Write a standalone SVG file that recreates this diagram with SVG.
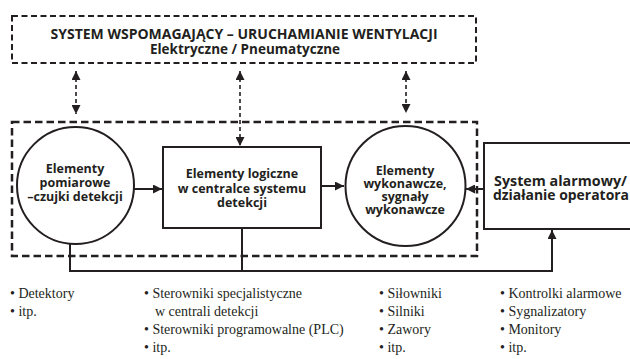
<svg xmlns="http://www.w3.org/2000/svg" width="630" height="359" viewBox="0 0 630 359">
<defs>
<style>
.s{fill:none;stroke:#231f20;stroke-width:2}
.dbox{fill:none;stroke:#231f20;stroke-width:2;stroke-dasharray:6 3.5}
.mbox{fill:none;stroke:#231f20;stroke-width:2.5;stroke-dasharray:7.5 4}
.da{fill:none;stroke:#231f20;stroke-width:1.6;stroke-dasharray:4 3}
.h{font-family:"Open Sans","Liberation Sans",sans-serif;font-weight:700;fill:#231f20;text-anchor:middle}
.b{font-family:"Liberation Serif",serif;font-size:14px;fill:#231f20}
</style>
<marker id="ah" viewBox="0 0 10 10" refX="10" refY="5" markerWidth="9" markerHeight="9" markerUnits="userSpaceOnUse" orient="auto-start-reverse">
<path d="M0,0 L10,5 L0,10 z" fill="#231f20"/>
</marker>
</defs>
<rect width="630" height="359" fill="#fff"/>

<g id="top">
<rect class="dbox" x="12" y="16" width="464" height="47"/>
<text class="h" x="244" y="39" font-size="14">SYSTEM WSPOMAGAJĄCY – URUCHAMIANIE WENTYLACJI</text>
<text class="h" x="245" y="54" font-size="13.5">Elektryczne / Pneumatyczne</text>
</g>

<g id="main">
<rect class="mbox" x="12" y="122" width="465" height="134"/>
</g>

<g id="pomiarowe">
<circle class="s" cx="75.5" cy="185.5" r="58.5"/>
<text class="h" font-size="12.5"><tspan x="75" y="173">Elementy</tspan><tspan x="75" y="187">pomiarowe</tspan><tspan x="75" y="201">–czujki detekcji</tspan></text>
</g>

<g id="logiczne">
<rect class="s" x="163" y="147" width="158" height="81"/>
<text class="h" font-size="12.5"><tspan x="242" y="178">Elementy logiczne</tspan><tspan x="242" y="193">w centralce systemu</tspan><tspan x="242" y="207">detekcji</tspan></text>
</g>

<g id="wykonawcze">
<circle class="s" cx="405.5" cy="186" r="60"/>
<text class="h" font-size="12.5"><tspan x="405" y="175">Elementy</tspan><tspan x="405" y="188">wykonawcze,</tspan><tspan x="405" y="201">sygnały</tspan><tspan x="405" y="214">wykonawcze</tspan></text>
</g>

<g id="alarm">
<rect class="s" x="484" y="143" width="160" height="86"/>
<text class="h" font-size="14" style="text-anchor:start" x="494" y="186" textLength="133" lengthAdjust="spacingAndGlyphs">System alarmowy/</text>
<text class="h" font-size="14" style="text-anchor:start" x="493" y="200" textLength="136" lengthAdjust="spacingAndGlyphs">działanie operatora</text>
</g>

<g id="connectors">
<line class="da" x1="76" y1="71" x2="76" y2="114" marker-start="url(#ah)" marker-end="url(#ah)"/>
<line class="da" x1="240" y1="71" x2="240" y2="146" marker-start="url(#ah)" marker-end="url(#ah)"/>
<line class="da" x1="406" y1="71" x2="406" y2="113" marker-start="url(#ah)" marker-end="url(#ah)"/>
<line class="s" x1="134" y1="189" x2="162" y2="189" marker-end="url(#ah)"/>
<line class="s" x1="321" y1="186" x2="344" y2="186" marker-end="url(#ah)"/>
<line class="s" x1="484" y1="189" x2="466" y2="189" marker-end="url(#ah)"/>
<polyline class="s" points="70,244 70,271 552,271 552,230" marker-end="url(#ah)"/>
<line class="s" x1="242" y1="228" x2="242" y2="271"/>
</g>

<g id="lists">
<text class="b"><tspan x="10" y="298">• Detektory</tspan><tspan x="10" y="316">• itp.</tspan></text>
<text class="b"><tspan x="144" y="298">• Sterowniki  specjalistyczne</tspan><tspan x="155" y="316">w centrali detekcji</tspan><tspan x="144" y="334">• Sterowniki programowalne (PLC)</tspan><tspan x="144" y="352">• itp.</tspan></text>
<text class="b"><tspan x="379" y="298">• Siłowniki</tspan><tspan x="379" y="316">• Silniki</tspan><tspan x="379" y="334">• Zawory</tspan><tspan x="379" y="352">• itp.</tspan></text>
<text class="b"><tspan x="500" y="298">• Kontrolki alarmowe</tspan><tspan x="500" y="316">• Sygnalizatory</tspan><tspan x="500" y="334">• Monitory</tspan><tspan x="500" y="352">• itp.</tspan></text>
</g>
</svg>
